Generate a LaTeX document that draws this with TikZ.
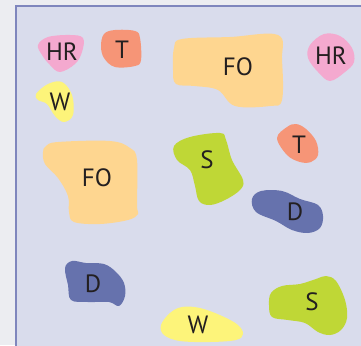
\documentclass[tikz,border=0pt]{standalone}
\usepackage{fontspec}
\setmainfont{PT Sans}
\definecolor{outerbg}{HTML}{ECEDF1}
\definecolor{panel}{HTML}{D9DCEC}
\definecolor{panelline}{HTML}{7F86BD}
\definecolor{cpink}{HTML}{F4A9CF}
\definecolor{corange}{HTML}{F69577}
\definecolor{cyellow}{HTML}{FDF47A}
\definecolor{cfo}{HTML}{FED690}
\definecolor{cgreen}{HTML}{BFD736}
\definecolor{cblue}{HTML}{6672AD}
\definecolor{ctext}{HTML}{231F20}
\tikzset{
  blob/.style={smooth cycle, tension=0.6},
  lbl/.style={text=ctext, font=\fontsize{25}{30}\selectfont, inner sep=0pt}
}
\begin{document}
\begin{tikzpicture}[x=1pt,y=-1pt]
\useasboundingbox (0,0) rectangle (361,345);
\fill[outerbg] (0,0) rectangle (361,345);
\fill[panel] (16,6) rectangle (362,346);
\draw[panelline, line width=2pt] (16,347) -- (16,6) -- (362,6);
% HR pink top-left
\fill[cpink] plot[blob] coordinates {(38,45) (48,37) (70,35) (83,38) (82,52) (75,64) (60,72) (50,65) (42,55)};
\node[lbl] (hr1) at (62,52) {HR};
% T orange top-left
\fill[corange] plot[blob] coordinates {(104,34) (115,30) (135,31) (140,38) (141,60) (135,66) (115,67) (104,58) (101,46)};
\node[lbl] (t1) at (122,50) {T};
% W yellow
\fill[cyellow] plot[blob] coordinates {(36,94) (48,84) (62,82) (72,95) (73,115) (64,122) (55,116) (47,104) (38,100)};
\node[lbl] (w1) at (60,102) {W};
% FO top
\fill[cfo] plot[blob] coordinates {(174,48) (182,39) (230,37) (278,35) (282,60) (282,100) (270,106) (235,106) (218,90) (195,86) (176,84) (173,70)};
\node[lbl] (fo1) at (238,67) {FO};
% HR pink right
\fill[cpink] plot[blob] coordinates {(310,45) (324,34) (340,36) (352,48) (354,62) (345,72) (330,81) (318,72) (308,58)};
\node[lbl] (hr2) at (331,56) {HR};
% FO left
\fill[cfo] plot[blob] coordinates {(46,146) (58,142) (110,141) (130,148) (137,160) (137,205) (138,214) (128,220) (100,224) (74,222) (69,212) (68,196) (58,178) (45,164) (43,152)};
\node[lbl] (fo2) at (97,178) {FO};
% S green middle
\fill[cgreen] plot[blob] coordinates {(174,146) (190,137) (220,133) (226,140) (232,160) (243,180) (240,190) (225,200) (210,205) (199,201) (195,186) (190,170) (177,160)};
\node[lbl] (s1) at (207,160) {S};
% T orange right
\fill[corange] plot[blob] coordinates {(277,138) (287,127) (296,124) (306,129) (316,141) (318,155) (311,162) (300,162) (287,155)};
\node[lbl] (t2) at (299,145) {T};
% D blue right
\fill[cblue] plot[blob] coordinates {(252,199) (261,191) (282,191) (300,199) (318,205) (323,216) (320,228) (308,233) (292,230) (276,221) (256,212)};
\node[lbl] (d1) at (295,212) {D};
% D blue bottom-left
\fill[cblue] plot[blob] coordinates {(65,268) (72,261) (86,263) (104,264) (116,272) (124,283) (125,296) (119,306) (109,302) (88,302) (71,300) (68,285)};
\node[lbl] (d2) at (93,284) {D};
% W yellow bottom
\fill[cyellow] plot[blob] coordinates {(161,325) (170,313) (182,307) (200,308) (222,316) (238,325) (243,334) (236,340) (210,342) (180,341) (164,335)};
\node[lbl] (w2) at (198,325) {W};
% S green bottom right
\fill[cgreen] plot[blob] coordinates {(271,293) (282,286) (300,284) (316,279) (326,276) (336,281) (345,300) (347,318) (341,330) (330,335) (318,332) (305,323) (288,320) (272,317) (269,305)};
\node[lbl] (s2) at (312,302) {S};
\end{tikzpicture}
\end{document}
